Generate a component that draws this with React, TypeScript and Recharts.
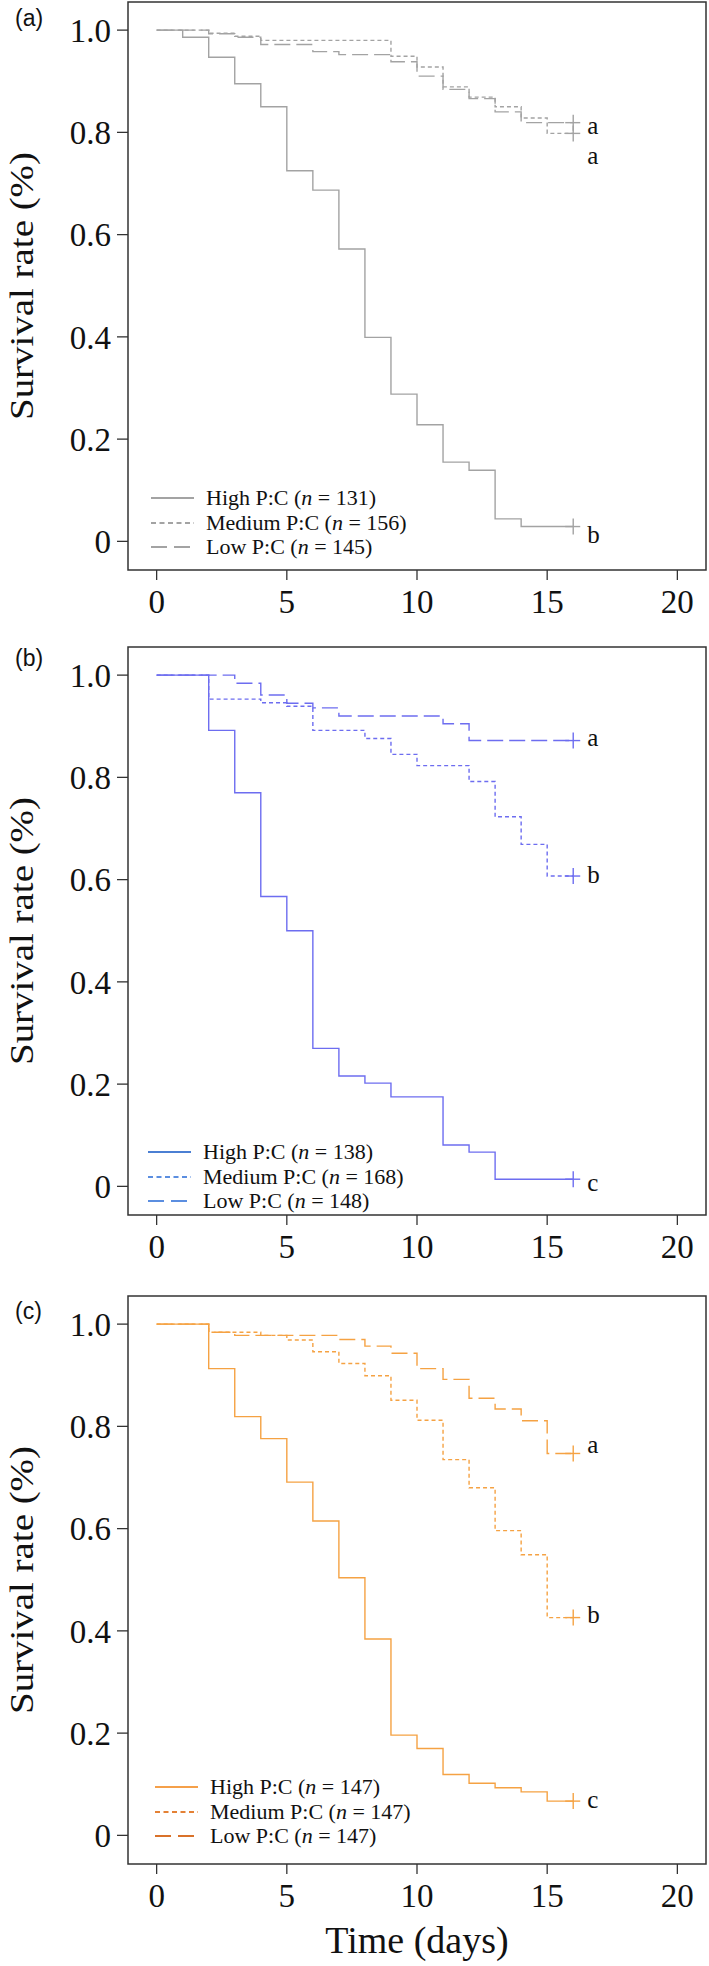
import React from 'react';
import { LineChart, Line, XAxis, YAxis, ReferenceArea, Legend, Label } from 'recharts';

// survival (Kaplan-Meier) values, one per day, value holds from that day on
const days = [0, 1, 2, 3, 4, 5, 6, 7, 8, 9, 10, 11, 12, 13, 14, 15, 16];

const highA = [1, 0.986, 0.947, 0.895, 0.85, 0.725, 0.687, 0.572, 0.399, 0.288, 0.228, 0.155, 0.139, 0.044, 0.029, 0.029, 0.029];
const mediumA = [1, 1, 0.994, 0.988, 0.98, 0.98, 0.98, 0.98, 0.98, 0.949, 0.928, 0.889, 0.869, 0.85, 0.828, 0.798, 0.798];
const lowA = [1, 1, 0.993, 0.986, 0.972, 0.972, 0.958, 0.952, 0.952, 0.938, 0.91, 0.884, 0.866, 0.84, 0.819, 0.819, 0.819];

const highB = [1, 1, 0.892, 0.77, 0.567, 0.5, 0.27, 0.216, 0.202, 0.175, 0.175, 0.081, 0.067, 0.014, 0.014, 0.014, 0.014];
const mediumB = [1, 1, 0.953, 0.953, 0.946, 0.939, 0.892, 0.892, 0.876, 0.845, 0.823, 0.823, 0.792, 0.723, 0.669, 0.607, 0.607];
const lowB = [1, 1, 1, 0.984, 0.961, 0.945, 0.936, 0.92, 0.92, 0.92, 0.92, 0.905, 0.872, 0.872, 0.872, 0.872, 0.872];

const highC = [1, 1, 0.913, 0.819, 0.776, 0.691, 0.615, 0.504, 0.384, 0.196, 0.17, 0.119, 0.102, 0.093, 0.085, 0.067, 0.067];
const mediumC = [1, 1, 0.984, 0.984, 0.978, 0.969, 0.946, 0.923, 0.899, 0.851, 0.812, 0.735, 0.68, 0.596, 0.549, 0.426, 0.426];
const lowC = [1, 1, 0.984, 0.978, 0.978, 0.978, 0.978, 0.97, 0.957, 0.943, 0.913, 0.892, 0.855, 0.834, 0.811, 0.747, 0.747];

const groups = ['High P:C', 'Medium P:C', 'Low P:C'];
const nA = [131, 156, 145];
const nB = [138, 168, 148];
const nC = [147, 147, 147];
const lettersA = ['b', 'a', 'a'];
const lettersB = ['c', 'b', 'a'];
const lettersC = ['c', 'b', 'a'];

const xTicks = [0, 5, 10, 15, 20];
const yTicks = [0, 0.2, 0.4, 0.6, 0.8, 1.0];

const SERIF = '"Liberation Serif", "Times New Roman", Times, serif';
const SANS = '"Liberation Sans", Arial, Helvetica, sans-serif';
const X_DOMAIN = [-1.1, 21.1];
const Y_DOMAIN = [-0.056, 1.055];
const KEYS = ['high', 'medium', 'low'];
const CURVE_DASH = [undefined, '4 3', '16 6'];
const LEGEND_DASH = [undefined, '5 3.5', '16 7'];

const toTable = (h: number[], m: number[], l: number[]) =>
  days.map((d, i) => ({ day: d, high: h[i], medium: m[i], low: l[i] }));

const endMark = (color: string, letter: string, dy: number) => (props: any) => {
  const { cx, cy, index } = props;
  if (index !== days.length - 1) return <g key={`e${index}`} />;
  return (
    <g key={`e${index}`}>
      <line x1={cx - 8} x2={cx + 7} y1={cy} y2={cy} stroke={color} strokeWidth={1.4} />
      <line x1={cx} x2={cx} y1={cy - 8} y2={cy + 8} stroke={color} strokeWidth={1.4} />
      <text x={cx + 14} y={cy + dy} dominantBaseline="middle" fontFamily={SERIF} fontSize={25} fill="#111">
        {letter}
      </text>
    </g>
  );
};

const legendBox = (n: number[], colors: string[]) => () => (
  <div style={{ fontFamily: SERIF, fontSize: 22, color: '#111', lineHeight: '24.5px' }}>
    {groups.map((g, i) => (
      <div key={g} style={{ display: 'flex', alignItems: 'center', height: 24.5, whiteSpace: 'nowrap' }}>
        <svg width={56} height={10}>
          <line x1={1} x2={44} y1={5} y2={5} stroke={colors[i]} strokeWidth={2} strokeDasharray={LEGEND_DASH[i]} />
        </svg>
        <span>
          {g} (<i>n</i> = {n[i]})
        </span>
      </div>
    ))}
  </div>
);

type PanelProps = {
  tag: string;
  data: any[];
  n: number[];
  letters: string[];
  letterDy: number[];
  color: string;
  legendColors: string[];
  top: number;
  height: number;
  marginTop: number;
  marginBottom: number;
  tagDy: number;
  legendLeft: number;
  legendTop: number;
  xTitle?: boolean;
};

function Panel(p: PanelProps) {
  return (
    <div style={{ position: 'absolute', left: 0, top: p.top }}>
      <LineChart
        width={709}
        height={p.height}
        data={p.data}
        margin={{ top: p.marginTop, bottom: p.marginBottom - 1, left: 127, right: 3 }}
      >
        <ReferenceArea
          x1={X_DOMAIN[0]}
          x2={X_DOMAIN[1]}
          y1={Y_DOMAIN[0]}
          y2={Y_DOMAIN[1]}
          fill="none"
          fillOpacity={0}
          stroke="#333"
          strokeWidth={1.5}
          ifOverflow="visible"
        />
        <XAxis
          type="number"
          dataKey="day"
          domain={X_DOMAIN}
          ticks={xTicks}
          allowDataOverflow
          height={1}
          axisLine={false}
          tickSize={10}
          tickMargin={10}
          tickLine={{ stroke: '#333', strokeWidth: 1.3 }}
          tick={{ fontSize: 33, fill: '#111', fontFamily: SERIF }}
        >
          {p.xTitle && (
            <Label
              content={(lp: any) => (
                <text
                  x={lp.viewBox.x + lp.viewBox.width / 2}
                  y={lp.viewBox.y + 89}
                  textAnchor="middle"
                  fontFamily={SERIF}
                  fontSize={38}
                  fill="#111"
                >
                  Time (days)
                </text>
              )}
            />
          )}
        </XAxis>
        <YAxis
          type="number"
          domain={Y_DOMAIN}
          ticks={yTicks}
          allowDataOverflow
          width={1}
          axisLine={false}
          tickSize={11}
          tickMargin={6}
          tickLine={{ stroke: '#333', strokeWidth: 1.3 }}
          tick={{ fontSize: 33, fill: '#111', fontFamily: SERIF }}
          tickFormatter={(v: number) => (v === 0 ? '0' : v.toFixed(1))}
        >
          <Label
            content={(lp: any) => (
              <text
                transform={`translate(33, ${lp.viewBox.y + lp.viewBox.height / 2}) rotate(-90)`}
                textAnchor="middle"
                fontFamily={SERIF}
                fontSize={34}
                textLength={268}
                lengthAdjust="spacingAndGlyphs"
                fill="#111"
              >
                Survival rate (%)
              </text>
            )}
          />
          <Label
            content={(lp: any) => (
              <text x={15} y={lp.viewBox.y + p.tagDy} fontFamily={SANS} fontSize={23} fill="#111">
                {p.tag}
              </text>
            )}
          />
        </YAxis>
        {KEYS.map((k, i) => (
          <Line
            key={k}
            type="stepAfter"
            dataKey={k}
            stroke={p.color}
            strokeWidth={1.4}
            strokeDasharray={CURVE_DASH[i]}
            dot={endMark(p.color, p.letters[i], p.letterDy[i])}
            activeDot={false}
            isAnimationActive={false}
          />
        ))}
        <Legend
          layout="vertical"
          align="center"
          verticalAlign="middle"
          content={legendBox(p.n, p.legendColors)}
          wrapperStyle={{ left: p.legendLeft, top: p.legendTop, width: 420, height: 75 }}
        />
      </LineChart>
    </div>
  );
}

export default function App() {
  return (
    <div style={{ position: 'absolute', left: 0, top: 0, width: 709, height: 1966, background: '#fff' }}>
      <Panel
        tag="(a)"
        data={toTable(highA, mediumA, lowA)}
        n={nA}
        letters={lettersA}
        letterDy={[11, 25, 6]}
        color="#a3a3a3"
        legendColors={['#a3a3a3', '#a3a3a3', '#a3a3a3']}
        top={0}
        height={640}
        marginTop={2}
        marginBottom={70}
        tagDy={24}
        legendLeft={150}
        legendTop={486}
      />
      <Panel
        tag="(b)"
        data={toTable(highB, mediumB, lowB)}
        n={nB}
        letters={lettersB}
        letterDy={[6, 1, 0]}
        color="#6d6df0"
        legendColors={['#4b7fd3', '#5b8ee0', '#5b8ee0']}
        top={640}
        height={640}
        marginTop={7}
        marginBottom={65}
        tagDy={19}
        legendLeft={147}
        legendTop={500}
      />
      <Panel
        tag="(c)"
        data={toTable(highC, mediumC, lowC)}
        n={nC}
        letters={lettersC}
        letterDy={[1, 0, -6]}
        color="#f5a243"
        legendColors={['#f5a04a', '#e48135', '#d9722a']}
        top={1280}
        height={686}
        marginTop={16}
        marginBottom={102}
        tagDy={23}
        legendLeft={154}
        legendTop={495}
        xTitle
      />
    </div>
  );
}
